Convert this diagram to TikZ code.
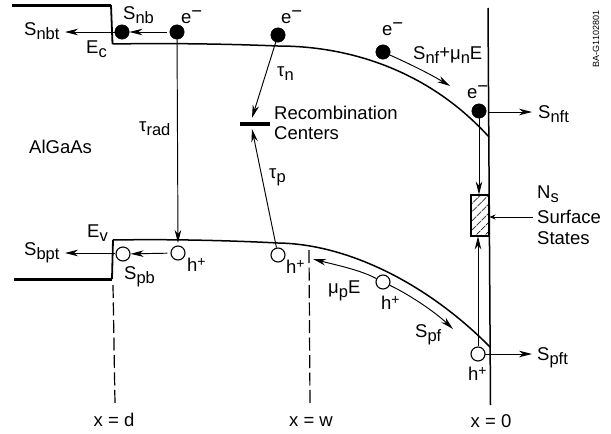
\documentclass[tikz,border=0pt]{standalone}
\usepackage{fontspec}
\setmainfont{Liberation Sans}
\usetikzlibrary{arrows.meta,patterns.meta}
\newcommand{\lo}[1]{\raisebox{-4.5pt}{\fontsize{16.5}{16.5}\selectfont #1}}
\newcommand{\hi}{\raisebox{6pt}{\textminus}}
\newcommand{\hp}{\raisebox{5pt}{\fontsize{14}{14}\selectfont +}}
\tikzset{
  lab/.style={inner sep=0pt,font=\fontsize{18.5}{20}\selectfont,anchor=base west},
  elec/.style={circle,fill=black,draw=black,inner sep=0pt,minimum size=14.5pt},
  hole/.style={circle,fill=white,draw=black,line width=1.1pt,inner sep=0pt,minimum size=14pt},
  conn/.style={line width=0.95pt,-{Stealth[length=13pt,width=6.5pt,inset=4pt]}},
  band/.style={line width=1.5pt},
  heavy/.style={line width=3pt},
  bound/.style={line width=1.5pt},
  dashline/.style={line width=1.2pt,dash pattern=on 13pt off 4.5pt},
}
\begin{document}
\begin{tikzpicture}[x=1pt,y=-1pt]
\useasboundingbox (0,0) rectangle (611,434);
% bands
\coordinate (tl) at (12,5); \coordinate (tc) at (111,5); \coordinate (tb) at (112.5,44);
\coordinate (bl) at (14,279); \coordinate (bc) at (112,279); \coordinate (bt) at (113,240);
\coordinate (tm) at (278,46); \coordinate (te) at (489,137);
\coordinate (bm) at (278,243); \coordinate (be) at (490,347);
\draw[heavy] (tl) -- (tc);
\draw[band,line width=1.8pt] (tc) -- (tb);
\draw[heavy] (bl) -- (bc);
\draw[band,line width=1.8pt] (bc) -- (bt);
\draw[band] (tb) .. controls (170,43) and (230,44) .. (tm) .. controls (355,46) and (432,74) .. (te);
\draw[band] (bt) .. controls (170,239) and (230,240.5) .. (bm) .. controls (350,244) and (430,286) .. (be);
% surface line
\coordinate (st) at (488,8); \coordinate (sb) at (490.5,405);
\draw[bound] (st) -- (sb);
% dashes
\coordinate (da) at (113,285); \coordinate (db) at (115,404);
\coordinate (wa) at (309,250); \coordinate (wb) at (310,404);
\draw[dashline] (da) -- (db);
\draw[dashline] (wa) -- (wb);
% carriers
\node[elec] (e1) at (122,32) {};
\node[elec] (e2) at (177,32) {};
\node[elec] (e3) at (278,35) {};
\node[elec] (e4) at (383,52) {};
\node[elec] (e5) at (479,111) {};
\node[hole] (h1) at (123,254) {};
\node[hole] (h2) at (178,253) {};
\node[hole] (h3) at (278,255) {};
\node[hole] (h4) at (383,282) {};
\node[hole] (h5) at (478,354) {};
% recombination bar and surface states
\node[fill=black,inner sep=0pt,minimum width=30pt,minimum height=4pt] (bar) at (255,124) {};
\node[draw=black,line width=1.5pt,minimum width=18pt,minimum height=41pt,inner sep=0pt,
  pattern={Lines[angle=45,distance=6.5pt,line width=0.8pt]}] (box) at (480,215.5) {};
% labels
\node[lab] (Snbt) at (24,35) {S\lo{nbt}};
\node[lab] (Snb) at (123,19) {S\lo{nb}};
\node[lab] at (86,53) {E\lo{c}};
\node[lab] at (181,23.5) {e\hi};
\node[lab] at (281,23.5) {e\hi};
\node[lab] at (382,35) {e\hi};
\node[lab] at (467,98) {e\hi};
\node[lab] at (139,131) {τ\lo{rad}};
\node[lab] at (277,76) {τ\lo{n}};
\node[lab] at (269,178) {τ\lo{p}};
\node[lab] at (274,119) {Recombination};
\node[lab] at (274,139) {Centers};
\node[lab] at (29,153) {AlGaAs};
\node[lab] at (413,59) {S\lo{nf}\raisebox{1pt}{+}μ\lo{n}E};
\node[lab] (Snft) at (538,118) {S\lo{nft}};
\node[lab] (Ns) at (537,198) {N\lo{s}};
\node[lab] (Surf) at (537,223) {Surface};
\node[lab] at (537,244) {States};
\node[lab] at (87,237) {E\lo{v}};
\node[lab] (Sbpt) at (24,255) {S\lo{bpt}};
\node[lab] at (124,279) {S\lo{pb}};
\node[lab] at (187,271) {h\hp};
\node[lab] at (286,273) {h\hp};
\node[lab] at (328,293) {μ\lo{p}E};
\node[lab] at (381,309) {h\hp};
\node[lab] at (415,337) {S\lo{pf}};
\node[lab] at (468,380) {h\hp};
\node[lab] (Spft) at (537,360) {S\lo{pft}};
\node[lab,anchor=base] at (114,426) {x = d};
\node[lab,anchor=base] at (311,426) {x = w};
\node[lab,anchor=base] at (491,427) {x = 0};
\node[inner sep=0pt,rotate=90,font=\fontsize{9}{9}\selectfont] at (596,39) {BA-G1102801};
% free ends
\coordinate (c1) at (115,32); \coordinate (c2) at (65,32);
\coordinate (c3) at (115,253); \coordinate (c4) at (65,253);
\coordinate (c5) at (489,112); \coordinate (c6) at (532,112);
\coordinate (c7) at (485,354); \coordinate (c8) at (532,354);
\coordinate (c9) at (450,86); \coordinate (c10) at (313,259); \coordinate (c11) at (453,329);
\coordinate (c12) at (178,243);
\coordinate (c13) at (533,217); \coordinate (c14) at (489.5,217);
\coordinate (b1) at (252,118); \coordinate (b2) at (252,129);
% connectors
\draw[conn,shorten <=3pt] (e2) -- (e1);
\draw[conn] (c1) -- (c2);
\draw[conn,shorten <=3pt] (h2) -- (h1);
\draw[conn] (c3) -- (c4);
\draw[conn] (e2) -- (c12);
\draw[conn] (e3) -- (b1);
\draw[conn] (h3) -- (b2);
\draw[conn] (c5) -- (c6);
\draw[conn] (c7) -- (c8);
\draw[conn] (e5) -- (e5|-box.north);
\draw[conn] (h5) -- (h5|-box.south);
\draw[line width=0.95pt,-{Stealth[length=6pt,width=5pt]}] (c13) -- (c14);
\draw[conn] (e4) .. controls (410,64) and (430,74) .. (c9);
\draw[conn] (h4) .. controls (360,270) and (340,266) .. (c10);
\draw[conn] (h4) .. controls (410,295) and (435,312) .. (c11);
\end{tikzpicture}
\end{document}
